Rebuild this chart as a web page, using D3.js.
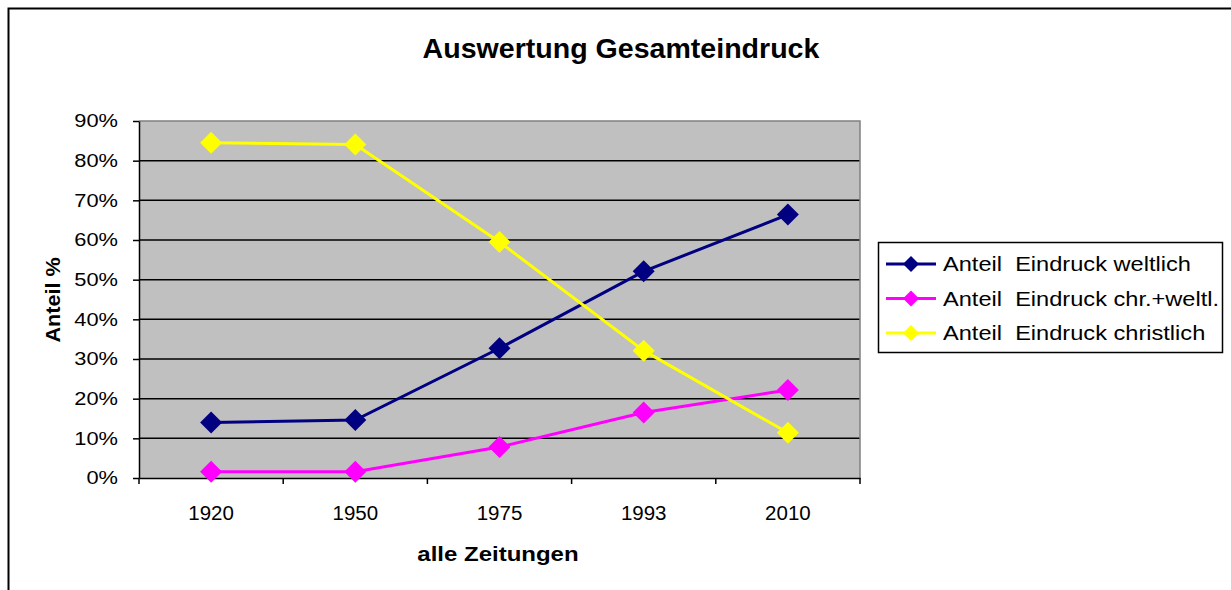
<!DOCTYPE html>
<html>
<head>
<meta charset="utf-8">
<script src="https://cdn.jsdelivr.net/npm/d3@7"></script>
<style>
  html, body { margin: 0; padding: 0; background: #fff; }
  svg { display: block; font-family: "Liberation Sans", Arial, sans-serif; }
</style>
</head>
<body>
<svg id="chart" width="1231" height="590"></svg>
<script>
'use strict';

// Daten
const years = ['1920', '1950', '1975', '1993', '2010'];
const weltlich = [0.140, 0.146, 0.327, 0.521, 0.664];
const chrWeltl = [0.016, 0.016, 0.078, 0.165, 0.222];
const christlich = [0.845, 0.841, 0.595, 0.321, 0.114];
const yTicks = [0, 0.1, 0.2, 0.3, 0.4, 0.5, 0.6, 0.7, 0.8, 0.9];

const series = [
  { name: 'Anteil  Eindruck weltlich', values: weltlich, color: '#000080' },
  { name: 'Anteil  Eindruck chr.+weltl.', values: chrWeltl, color: '#FF00FF' },
  { name: 'Anteil  Eindruck christlich', values: christlich, color: '#FFFF00' }
];

const svg = d3.select('#chart');
const plot = { left: 139, right: 860, top: 121, bottom: 478 };

// Schrift im Original ist etwas breiter -> Textlaenge strecken
function stretch(sel, k) {
  sel.each(function () {
    const len = this.getComputedTextLength();
    d3.select(this).attr('textLength', len * k).attr('lengthAdjust', 'spacingAndGlyphs');
  });
}

// Rahmen
svg.append('path')
  .attr('d', 'M8.5,590 L8.5,8.5 L1231,8.5')
  .attr('fill', 'none').attr('stroke', '#000').attr('stroke-width', 2);

const x = d3.scaleBand().domain(years).range([plot.left, plot.right]);
const y = d3.scaleLinear().domain([0, 0.9]).range([plot.bottom, plot.top]);

svg.append('rect')
  .attr('x', plot.left).attr('y', plot.top)
  .attr('width', plot.right - plot.left).attr('height', plot.bottom - plot.top)
  .attr('fill', '#C0C0C0');

// Gitterlinien
svg.append('g').selectAll('line')
  .data(yTicks.slice(1, -1))
  .join('line')
  .attr('x1', plot.left).attr('x2', plot.right)
  .attr('y1', d => y(d)).attr('y2', d => y(d))
  .attr('stroke', '#000').attr('stroke-width', 1.5);

svg.append('path')
  .attr('d', `M${plot.left},${plot.top} L${plot.right},${plot.top} L${plot.right},${plot.bottom}`)
  .attr('fill', 'none').attr('stroke', '#808080').attr('stroke-width', 1.5);

// Y-Achse
const yAxis = svg.append('g')
  .attr('transform', `translate(${plot.left},0)`)
  .call(d3.axisLeft(y).tickValues(yTicks).tickFormat(d3.format('.0%')).tickSize(6).tickSizeOuter(0).tickPadding(15));
yAxis.select('.domain').attr('stroke', '#000').attr('stroke-width', 1.5);
yAxis.selectAll('.tick line').attr('stroke', '#000').attr('stroke-width', 1.5);
yAxis.selectAll('text').attr('font-size', 18.5).attr('fill', '#000')
  .attr('font-family', '"Liberation Sans", Arial, sans-serif')
  .call(stretch, 1.18);

// X-Achse
const xAxis = svg.append('g')
  .attr('transform', `translate(0,${plot.bottom})`)
  .call(d3.axisBottom(x).tickSize(0).tickPadding(27));
xAxis.select('.domain').attr('stroke', '#000').attr('stroke-width', 1.5);
xAxis.selectAll('text').attr('font-size', 20.5).attr('fill', '#000')
  .attr('font-family', '"Liberation Sans", Arial, sans-serif');

svg.append('g').selectAll('line')
  .data(years.map(d => x(d)).concat([plot.right]))
  .join('line')
  .attr('x1', d => d).attr('x2', d => d)
  .attr('y1', plot.bottom).attr('y2', plot.bottom + 6)
  .attr('stroke', '#000').attr('stroke-width', 1.5);

// Linien + Marker
const cx = d => x(d) + x.bandwidth() / 2;
const line = d3.line().x((v, i) => cx(years[i])).y(v => y(v));
const diamond = (px, py, r) => `M${px},${py - r} L${px + r},${py} L${px},${py + r} L${px - r},${py} Z`;

series.forEach(s => {
  svg.append('path')
    .attr('d', line(s.values))
    .attr('fill', 'none').attr('stroke', s.color).attr('stroke-width', 3);
  svg.append('g').selectAll('path')
    .data(s.values)
    .join('path')
    .attr('d', (v, i) => diamond(cx(years[i]), y(v), 11))
    .attr('fill', s.color);
});

// Titel und Achsentitel
svg.append('text')
  .attr('x', 621).attr('y', 58)
  .attr('text-anchor', 'middle').attr('font-size', 28).attr('font-weight', 'bold')
  .text('Auswertung Gesamteindruck')
  .call(stretch, 1.02);

svg.append('text')
  .attr('transform', 'translate(60,300) rotate(-90)')
  .attr('text-anchor', 'middle').attr('font-size', 20).attr('font-weight', 'bold')
  .text('Anteil %')
  .call(stretch, 1.08);

svg.append('text')
  .attr('x', 498).attr('y', 561)
  .attr('text-anchor', 'middle').attr('font-size', 19.5).attr('font-weight', 'bold')
  .text('alle Zeitungen')
  .call(stretch, 1.23);

// Legende
const legend = svg.append('g').attr('transform', 'translate(878,242)');
legend.append('rect')
  .attr('x', 0.5).attr('y', 0.5).attr('width', 344).attr('height', 110)
  .attr('fill', '#fff').attr('stroke', '#000').attr('stroke-width', 1.5);

const item = legend.selectAll('g.item')
  .data(series)
  .join('g')
  .attr('class', 'item')
  .attr('transform', (d, i) => `translate(0,${22 + i * 34.5})`);
item.append('line')
  .attr('x1', 8).attr('x2', 58).attr('y1', 0).attr('y2', 0)
  .attr('stroke', d => d.color).attr('stroke-width', 3);
item.append('path')
  .attr('d', diamond(33, 0, 8))
  .attr('fill', d => d.color);
item.append('text')
  .attr('x', 65).attr('y', 7)
  .attr('font-size', 19.5)
  .style('white-space', 'pre')
  .text(d => d.name)
  .call(stretch, 1.21);
</script>
</body>
</html>
